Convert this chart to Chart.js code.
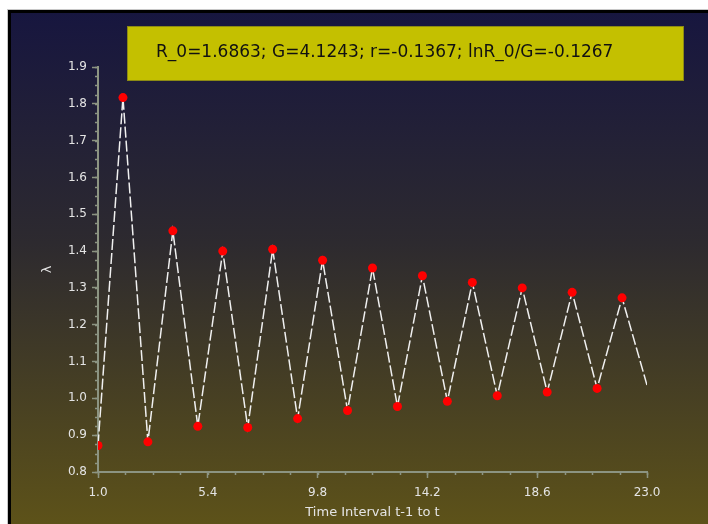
<!DOCTYPE html>
<html>
<head>
<meta charset="utf-8">
<script src="https://cdn.jsdelivr.net/npm/chart.js@4/dist/chart.umd.min.js"></script>
<style>
  html, body { margin: 0; padding: 0; background: #fff; }
</style>
</head>
<body>
<canvas id="myChart" width="708" height="524"></canvas>
<script>
// values
var titleText = 'R_0=1.6863; G=4.1243; r=-0.1367; lnR_0/G=-0.1267';
var intervals = [1, 2, 3, 4, 5, 6, 7, 8, 9, 10, 11, 12, 13, 14, 15, 16, 17, 18, 19, 20, 21, 22, 23];
var lambdas = [0.872, 1.817, 0.882, 1.455, 0.924, 1.400, 0.921, 1.405, 0.945, 1.375, 0.967, 1.354,
               0.978, 1.333, 0.992, 1.315, 1.007, 1.300, 1.017, 1.288, 1.027, 1.273, 1.036];
var xTicks = [1.0, 5.4, 9.8, 14.2, 18.6, 23.0];
var yTickStep = 0.1;
var xMinorStep = 1.1;
var yMinorStep = 0.025;

var axisColor = '#8c9482';
var labelColor = '#e4e4e4';

// frame, gradient panel and the yellow info box
var framePlugin = {
  id: 'frame',
  beforeDraw: function (chart) {
    var ctx = chart.ctx, w = chart.width, h = chart.height;
    ctx.save();
    ctx.fillStyle = '#fff';
    ctx.fillRect(0, 0, w, h);
    var g = ctx.createLinearGradient(0, 13, 0, h);
    g.addColorStop(0, '#17163f');
    g.addColorStop(0.45, '#2d2a2f');
    g.addColorStop(1, '#5d5219');
    ctx.fillStyle = g;
    ctx.fillRect(11, 13, w - 11, h - 13);
    ctx.fillStyle = '#000';
    ctx.fillRect(9, 10, w - 9, 3);
    ctx.fillRect(8, 10, 3, h - 10);
    ctx.fillStyle = '#c8c8c8';
    ctx.fillRect(8, 9, w - 8, 1);
    ctx.fillRect(7, 9, 1, h - 9);
    ctx.restore();
  },
  afterDraw: function (chart) {
    var ctx = chart.ctx;
    ctx.save();
    // minor ticks
    var xs = chart.scales.x, ys = chart.scales.y;
    ctx.strokeStyle = axisColor;
    ctx.lineWidth = 1.5;
    ctx.beginPath();
    for (var v = xs.min; v <= xs.max + 1e-9; v += xMinorStep) {
      var px = Math.round(xs.getPixelForValue(v)) + 0.5;
      ctx.moveTo(px, chart.chartArea.bottom);
      ctx.lineTo(px, chart.chartArea.bottom + 3);
    }
    for (var u = ys.min; u <= ys.max + 1e-9; u += yMinorStep) {
      var py = Math.round(ys.getPixelForValue(u)) + 0.5;
      ctx.moveTo(chart.chartArea.left, py);
      ctx.lineTo(chart.chartArea.left - 3, py);
    }
    ctx.stroke();

    // info box
    ctx.fillStyle = '#c4c000';
    ctx.fillRect(127, 26, 557, 55);
    ctx.strokeStyle = '#8c8a14';
    ctx.lineWidth = 1;
    ctx.strokeRect(127.5, 26.5, 556, 54);
    ctx.fillStyle = '#111';
    ctx.font = '17px "DejaVu Sans"';
    ctx.textBaseline = 'middle';
    ctx.textAlign = 'left';
    ctx.fillText(titleText, 156, 53);
    ctx.restore();
  }
};

var mychart = document.getElementById('myChart').getContext('2d');
var lambdaChart = new Chart(mychart, {
  type: 'line',
  data: {
    datasets: [{
      label: 'lambda',
      data: intervals.map(function (x, i) { return { x: x, y: lambdas[i] }; }),
      borderColor: '#f0f0f0',
      borderWidth: 1.5,
      borderDash: [11, 3],
      tension: 0,
      fill: false,
      pointRadius: function (c) { return c.dataIndex < intervals.length - 1 ? 4.5 : 0; },
      pointBackgroundColor: '#ff0000',
      pointBorderColor: '#ff0000',
      pointBorderWidth: 0
    }]
  },
  options: {
    responsive: false,
    animation: false,
    devicePixelRatio: 1,
    layout: { padding: { left: 0, right: 61, top: 67, bottom: 0 } },
    plugins: {
      legend: { display: false },
      tooltip: { enabled: false }
    },
    scales: {
      x: {
        type: 'linear',
        min: 1,
        max: 23,
        afterBuildTicks: function (s) { s.ticks = xTicks.map(function (v) { return { value: v }; }); },
        afterFit: function (s) { s.height = 52; },
        ticks: {
          color: labelColor,
          font: { family: 'DejaVu Sans', size: 12 },
          padding: 8,
          maxRotation: 0,
          autoSkip: false,
          callback: function (v) { return Number(v).toFixed(1); }
        },
        grid: { drawOnChartArea: false, tickLength: 6, tickColor: axisColor, tickWidth: 1.5 },
        border: { color: axisColor, width: 2 },
        title: {
          display: true,
          text: 'Time Interval t-1 to t',
          color: labelColor,
          font: { family: 'DejaVu Sans', size: 13 },
          padding: { top: 0, bottom: 4 }
        }
      },
      y: {
        min: 0.8,
        max: 1.9,
        afterFit: function (s) { s.width = 98; },
        ticks: {
          stepSize: yTickStep,
          color: labelColor,
          font: { family: 'DejaVu Sans', size: 12 },
          padding: 5,
          callback: function (v) { return Number(v).toFixed(1); }
        },
        grid: { drawOnChartArea: false, tickLength: 6, tickColor: axisColor, tickWidth: 1.5 },
        border: { color: axisColor, width: 2 },
        title: {
          display: true,
          text: 'λ',
          color: labelColor,
          font: { family: 'DejaVu Sans', size: 13 },
          padding: { top: 40, bottom: 0 }
        }
      }
    }
  },
  plugins: [framePlugin]
});
</script>
</body>
</html>
